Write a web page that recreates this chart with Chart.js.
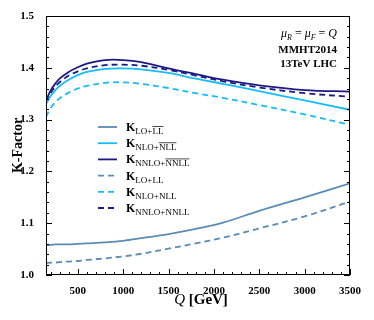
<!DOCTYPE html>
<html><head><meta charset="utf-8">
<script src="https://cdn.jsdelivr.net/npm/chart.js@4/dist/chart.umd.min.js"></script>
<style>html,body{margin:0;padding:0;background:#fff}</style>
</head><body>
<canvas id="c" width="374" height="320" style="width:374px;height:320px;display:block"></canvas>
<script>
// ---- data ----
const Q = [150, 200, 250, 300, 400, 500, 600, 800, 1000, 1200, 1500, 1800, 2100, 2500, 3000, 3500];
const K_LO_LLbar     = [1.058, 1.058, 1.059, 1.059, 1.059, 1.060, 1.061, 1.063, 1.066, 1.071, 1.079, 1.089, 1.101, 1.124, 1.150, 1.177];
const K_NLO_NLLbar   = [1.330, 1.345, 1.356, 1.365, 1.377, 1.386, 1.392, 1.398, 1.399, 1.397, 1.390, 1.379, 1.369, 1.355, 1.337, 1.319];
const K_NNLO_NNLLbar = [1.336, 1.356, 1.369, 1.379, 1.392, 1.401, 1.408, 1.415, 1.415, 1.411, 1.399, 1.388, 1.377, 1.366, 1.357, 1.354];
const K_LO_LL        = [1.023, 1.024, 1.024, 1.025, 1.026, 1.027, 1.029, 1.032, 1.036, 1.041, 1.051, 1.061, 1.072, 1.090, 1.113, 1.142];
const K_NLO_NLL      = [1.305, 1.322, 1.333, 1.341, 1.352, 1.360, 1.365, 1.371, 1.372, 1.369, 1.361, 1.351, 1.342, 1.328, 1.310, 1.290];
const K_NNLO_NNLL    = [1.334, 1.351, 1.363, 1.372, 1.385, 1.393, 1.399, 1.405, 1.406, 1.404, 1.396, 1.385, 1.374, 1.362, 1.351, 1.344];

const xTicks = [500, 1000, 1500, 2000, 2500, 3000, 3500];
const yTicks = [1.0, 1.1, 1.2, 1.3, 1.4, 1.5];
const xMinorStep = 100;
const yMinorStep = 0.02;

const legendMain = ['K', 'K', 'K', 'K', 'K', 'K'];
const legendSubA = ['LO+', 'NLO+', 'NNLO+', 'LO+', 'NLO+', 'NNLO+'];
const legendSubB = ['LL', 'NLL', 'NNLL', 'LL', 'NLL', 'NNLL'];
const legendBar  = [true, true, true, false, false, false];

const cLO = '#5b8cb5', cNLO = '#14bdf7', cNNLO = '#1c1a87';
const SERIF = '"Liberation Serif","DejaVu Serif",serif';

function pts(arr) { return Q.map((q, i) => ({x: q, y: arr[i]})); }
function ds(label, arr, color, dashed) {
  return {label, data: pts(arr), borderColor: color, backgroundColor: color,
    borderWidth: 1.8, borderDash: dashed ? [6, 4] : [], pointRadius: 0,
    tension: 0.35, fill: false};
}

const frameTicks = {
  id: 'frameTicks',
  afterDraw(chart) {
    const ctx = chart.ctx, a = chart.chartArea, xs = chart.scales.x, ys = chart.scales.y;
    ctx.save();
    ctx.strokeStyle = '#000'; ctx.lineWidth = 1;
    ctx.strokeRect(a.left + 0.5, a.top + 0.5, a.right - a.left - 1, a.bottom - a.top - 1);
    ctx.beginPath();
    for (let v = Math.ceil(xs.min / xMinorStep) * xMinorStep; v <= xs.max; v += xMinorStep) {
      const px = Math.round(xs.getPixelForValue(v)) + 0.5;
      const len = (v % 500 === 0) ? 6 : 3;
      ctx.moveTo(px, a.bottom); ctx.lineTo(px, a.bottom - len);
    }
    const n = Math.round((ys.max - ys.min) / yMinorStep);
    for (let i = 0; i <= n; i++) {
      const v = ys.min + i * yMinorStep;
      const py = Math.round(ys.getPixelForValue(v)) + 0.5;
      const len = (i % 5 === 0) ? 6 : 3;
      ctx.moveTo(a.left, py); ctx.lineTo(a.left + len, py);
      ctx.moveTo(a.right, py); ctx.lineTo(a.right - len, py);
    }
    ctx.stroke();

    // x axis title: Q [GeV]
    ctx.fillStyle = '#000';
    ctx.textBaseline = 'alphabetic';
    ctx.font = 'italic 15px ' + SERIF;
    const wQ = ctx.measureText('Q').width;
    ctx.font = 'bold 15px ' + SERIF;
    const wG = ctx.measureText(' [GeV]').width;
    const cx = (a.left + a.right) / 2 + 3;
    let x0 = cx - (wQ + wG) / 2;
    ctx.font = 'italic 15px ' + SERIF; ctx.fillText('Q', x0, 304);
    ctx.font = 'bold 15px ' + SERIF; ctx.fillText(' [GeV]', x0 + wQ, 304);

    // annotations (right aligned)
    const rx = 337;
    const parts = [['μ', 'italic 12px'], ['R', 'italic 8px', 3], [' = ', '12px'], ['μ', 'italic 12px'], ['F', 'italic 8px', 3], [' = ', '12px'], ['Q', 'italic 12px']];
    let tw = 0;
    parts.forEach(p => { ctx.font = p[1] + ' ' + SERIF; tw += ctx.measureText(p[0]).width; });
    let px = rx - tw;
    parts.forEach(p => { ctx.font = p[1] + ' ' + SERIF; ctx.fillText(p[0], px, 37 + (p[2] || 0)); px += ctx.measureText(p[0]).width; });
    ctx.font = 'bold 11px ' + SERIF; ctx.textAlign = 'right';
    ctx.fillText('MMHT2014', rx, 53);
    ctx.fillText('13TeV LHC', rx, 67);
    ctx.textAlign = 'left';

    // legend
    chart.data.datasets.forEach((d, i) => {
      const y = 127 + i * 16.2;
      ctx.strokeStyle = d.borderColor; ctx.lineWidth = d.borderWidth;
      ctx.setLineDash(d.borderDash || []);
      ctx.beginPath(); ctx.moveTo(98, y); ctx.lineTo(117, y); ctx.stroke();
      ctx.setLineDash([]);
      ctx.fillStyle = '#000';
      ctx.font = 'bold 12px ' + SERIF;
      ctx.fillText(legendMain[i], 126, y + 4);
      let sx = 126 + ctx.measureText(legendMain[i]).width;
      ctx.font = '9px ' + SERIF;
      ctx.fillText(legendSubA[i], sx, y + 7);
      sx += ctx.measureText(legendSubA[i]).width;
      ctx.fillText(legendSubB[i], sx, y + 7);
      if (legendBar[i]) {
        const w = ctx.measureText(legendSubB[i]).width;
        ctx.strokeStyle = '#000'; ctx.lineWidth = 0.7;
        ctx.beginPath(); ctx.moveTo(sx, y - 0.5); ctx.lineTo(sx + w, y - 0.5); ctx.stroke();
      }
    });
    ctx.restore();
  }
};

new Chart(document.getElementById('c'), {
  type: 'line',
  data: {
    datasets: [
      ds('K LO+LL (bar)', K_LO_LLbar, cLO, false),
      ds('K NLO+NLL (bar)', K_NLO_NLLbar, cNLO, false),
      ds('K NNLO+NNLL (bar)', K_NNLO_NNLLbar, cNNLO, false),
      ds('K LO+LL', K_LO_LL, cLO, true),
      ds('K NLO+NLL', K_NLO_NLL, cNLO, true),
      ds('K NNLO+NNLL', K_NNLO_NNLL, cNNLO, true)
    ]
  },
  options: {
    responsive: false, animation: false, devicePixelRatio: 1,
    layout: {padding: {left: 0, right: 24, top: 16, bottom: 0}},
    plugins: {legend: {display: false}, tooltip: {enabled: false}},
    scales: {
      x: {
        type: 'linear', min: 150, max: 3500,
        afterBuildTicks: s => { s.ticks = xTicks.map(v => ({value: v})); },
        afterFit: s => { s.height = 45; },
        grid: {display: false}, border: {display: false},
        ticks: {color: '#000', font: {family: SERIF, size: 11, weight: 'bold'}, padding: 2, maxRotation: 0, autoSkip: false, callback: v => String(v)}
      },
      y: {
        type: 'linear', min: 1.0, max: 1.5,
        afterBuildTicks: s => { s.ticks = yTicks.map(v => ({value: v})); },
        afterFit: s => { s.width = 46; },
        grid: {display: false}, border: {display: false},
        ticks: {color: '#000', font: {family: SERIF, size: 11, weight: 'bold'}, padding: 4, callback: v => v.toFixed(1)},
        title: {display: true, text: 'K-Factor', color: '#000', font: {family: SERIF, size: 14, weight: 'bold'}, padding: {top: 10, bottom: 0}}
      }
    }
  },
  plugins: [frameTicks]
});
</script>
</body></html>
